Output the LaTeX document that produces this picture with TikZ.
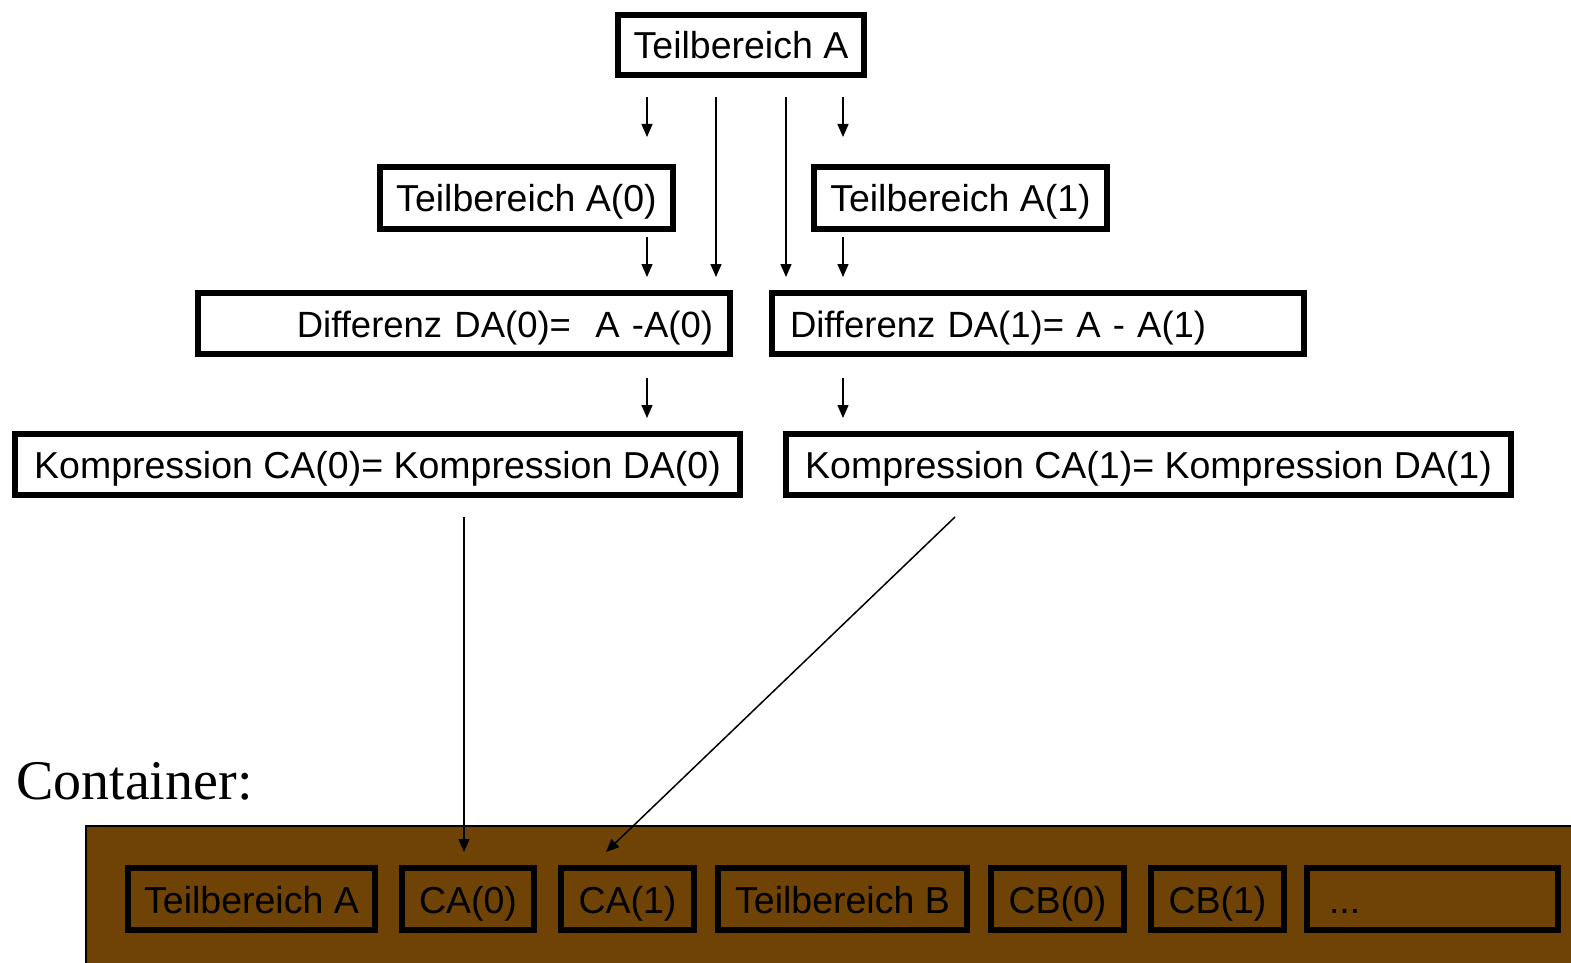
\documentclass[tikz,border=0pt]{standalone}
\usepackage{fontspec}
\setmainfont{Liberation Sans}
\newfontfamily\timesfont{Liberation Serif}
\usetikzlibrary{arrows.meta}
\definecolor{containerbrown}{RGB}{111,66,5}
\begin{document}
\begin{tikzpicture}[x=1pt,y=-1pt,
  box/.style={draw=black, line width=6pt, inner sep=0pt, minimum height=61pt,
    text height=27pt, text depth=0pt,
    font=\fontsize{37.5}{40}\selectfont},
  diffbox/.style={box, font=\fontsize{36.5}{40}\selectfont},
  toparrow/.style={line width=1.5pt, -{Triangle[length=13pt,width=11pt]}},
  cell/.style={box, minimum height=62pt, text height=28pt}]
\useasboundingbox (0,0) rectangle (1571,963);

% upper part: the split of Teilbereich A
\node[box, minimum width=246pt, minimum height=60pt] (tA) at (741,45) {Teilbereich A};
\node[box, minimum width=293pt, minimum height=62pt] (tA0) at (526.5,198) {Teilbereich A(0)};
\node[box, minimum width=293pt, minimum height=62pt] (tA1) at (960.5,198) {Teilbereich A(1)};
\node[diffbox, inner xsep=17pt, text width=498pt, align=right] (dA0) at (464,323.5) {\mbox{Differenz DA(0)=\ \ A -A(0)}};
\node[diffbox, inner xsep=18pt, text width=496pt, align=left] (dA1) at (1038,323.5) {\mbox{Differenz DA(1)= A - A(1)}};
\node[box, minimum width=725pt] (kA0) at (377.5,464.5) {Kompression CA(0)= Kompression DA(0)};
\node[box, minimum width=725pt] (kA1) at (1148.5,464.5) {Kompression CA(1)= Kompression DA(1)};

% container
\node[anchor=base west, inner sep=0pt, font=\timesfont\fontsize{56}{60}\selectfont] (clabel) at (16,799) {Container:};
\path[fill=containerbrown, draw=black, line width=2pt] (86,826) rectangle (1580,975);
\node[cell, minimum width=247pt] (cTA) at (251.5,899) {Teilbereich A};
\node[cell, minimum width=132pt] (cCA0) at (468,899) {CA(0)};
\node[cell, minimum width=133pt] (cCA1) at (627.5,899) {CA(1)};
\node[cell, minimum width=249pt] (cTB) at (842.5,899) {Teilbereich B};
\node[cell, minimum width=133pt] (cCB0) at (1057.5,899) {CB(0)};
\node[cell, minimum width=133pt] (cCB1) at (1217.5,899) {CB(1)};
\node[cell, inner xsep=22pt, text width=207pt, align=left] (cmore) at (1432.5,899) {...};

% free ends of the connectors
\coordinate (s1) at (647,97);   \coordinate (e1) at (647,137);
\coordinate (s2) at (716,97);   \coordinate (e2) at (716,277);
\coordinate (s3) at (786,97);   \coordinate (e3) at (786,277);
\coordinate (s4) at (843,97);   \coordinate (e4) at (843,137);
\coordinate (s5) at (647,237);  \coordinate (e5) at (647,277);
\coordinate (s6) at (843,237);  \coordinate (e6) at (843,277);
\coordinate (s7) at (647,378);  \coordinate (e7) at (647,418);
\coordinate (s8) at (843,378);  \coordinate (e8) at (843,418);
\coordinate (s9) at (464,517);  \coordinate (e9) at (464,852);
\coordinate (s10) at (955,517); \coordinate (e10) at (606,852);

\foreach \i in {1,...,10} {
  \draw[toparrow] (s\i) -- (e\i);
}
\end{tikzpicture}
\end{document}
